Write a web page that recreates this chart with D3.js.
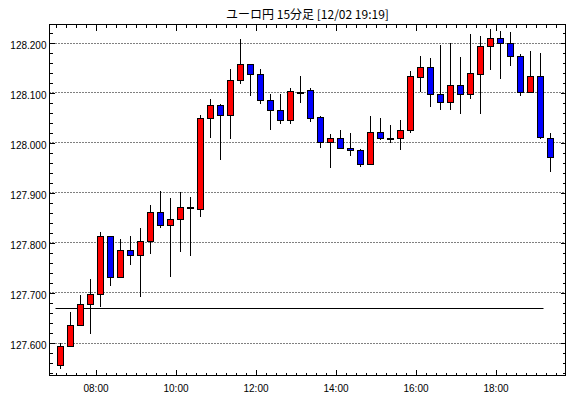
<!DOCTYPE html>
<html><head><meta charset="utf-8">
<script src="https://cdn.jsdelivr.net/npm/d3@7"></script>
<style>
html,body{margin:0;padding:0;background:#fff;}
svg{display:block;}
</style></head>
<body>
<svg id="chart" width="570" height="398"></svg>
<script>
const title = "ユーロ円 15分足 [12/02 19:19]";
const times = ["07:00","07:15","07:30","07:45","08:00","08:15","08:30","08:45","09:00","09:15",
  "09:30","09:45","10:00","10:15","10:30","10:45","11:00","11:15","11:30","11:45",
  "12:00","12:15","12:30","12:45","13:00","13:15","13:30","13:45","14:00","14:15",
  "14:30","14:45","15:00","15:15","15:30","15:45","16:00","16:15","16:30","16:45",
  "17:00","17:15","17:30","17:45","18:00","18:15","18:30","18:45","19:00","19:15"];
const open = [127.554,127.594,127.636,127.678,127.698,127.812,127.730,127.785,127.776,127.803,
  127.862,127.834,127.846,127.870,127.868,128.048,128.074,128.054,128.124,128.156,
  128.136,128.084,128.064,128.046,128.101,128.104,128.050,128.000,128.008,127.988,
  127.984,127.956,128.020,128.010,128.008,128.024,128.130,128.152,128.096,128.080,
  128.114,128.096,128.136,128.193,128.208,128.198,128.172,128.100,128.132,128.010];
const high = [127.600,127.661,127.695,127.727,127.821,127.813,127.807,127.813,127.829,127.875,
  127.903,127.889,127.900,127.891,128.055,128.087,128.076,128.147,128.207,128.158,
  128.147,128.097,128.097,128.108,128.133,128.108,128.053,128.017,128.025,128.019,
  127.986,128.053,128.048,128.035,128.045,128.143,128.173,128.169,128.195,128.199,
  128.171,128.218,128.213,128.226,128.223,128.221,128.177,128.183,128.179,128.018];
const low = [127.547,127.590,127.633,127.618,127.671,127.713,127.729,127.755,127.691,127.777,
  127.829,127.730,127.781,127.773,127.851,128.008,127.965,128.006,128.116,128.093,
  128.076,128.025,128.037,128.037,128.079,128.041,127.989,127.949,127.986,127.973,
  127.951,127.956,128.005,127.998,127.985,128.018,128.100,128.071,128.064,128.064,
  128.057,128.086,128.056,128.145,128.127,128.153,128.093,128.100,128.007,127.941];
const close = [127.594,127.636,127.678,127.698,127.812,127.730,127.785,127.776,127.803,127.862,
  127.834,127.846,127.870,127.870,128.048,128.074,128.054,128.124,128.156,128.136,
  128.084,128.064,128.046,128.102,128.101,128.049,128.000,128.008,127.989,127.984,
  127.956,128.020,128.010,128.009,128.025,128.132,128.152,128.096,128.080,128.114,
  128.096,128.139,128.193,128.208,128.198,128.172,128.100,128.132,128.011,127.972];
const yTickLabels = ["127.600","127.700","127.800","127.900","128.000","128.100","128.200"];
const xTickLabels = ["08:00","10:00","12:00","14:00","16:00","18:00"];
const refLevel = 127.668;
const refStart = "07:00";
const refEnd = "19:12";

const day = "2020-12-02";
const parse = d3.timeParse("%Y-%m-%d %H:%M");
const T = s => parse(day + " " + s);

const L = 49.5, R = 565.5, TOP = 24.5, BOT = 375.5;
const svg = d3.select("#chart");

const x = d3.scaleTime().domain([T("06:51"), T("19:45")]).range([L, R]);
const y = d3.scaleLinear().domain([127.536, 128.236]).range([374.5, 24.5]);

const font = "'Liberation Sans', Arial, sans-serif";

// title
svg.append("text").attr("x", (L + R) / 2).attr("y", 18.5)
  .attr("text-anchor", "middle").attr("font-family", "'Noto Sans CJK JP', sans-serif")
  .attr("font-size", 12).attr("fill", "#000").text(title);

// grid
svg.append("g").selectAll("line").data(yTickLabels).join("line")
  .attr("x1", L).attr("x2", R)
  .attr("y1", d => Math.round(y(+d)) + 0.5).attr("y2", d => Math.round(y(+d)) + 0.5)
  .attr("stroke", "#000").attr("stroke-width", 1).attr("stroke-dasharray", "1,2");

// ticks
const minorTimes = d3.timeMinute.every(15).range(T("07:00"), T("19:45"));
const majorTimes = xTickLabels.map(T);
const minorVals = d3.range(127.54, 128.2361, 0.02);

function styleAxis(g) {
  g.select(".domain").remove();
  g.selectAll(".tick line").attr("stroke", "#000").attr("shape-rendering", "crispEdges");
  g.selectAll(".tick text").attr("fill", "#000").attr("font-family", font).attr("font-size", 10);
}

svg.append("g").attr("transform", `translate(0,${BOT})`)
  .call(d3.axisBottom(x).tickValues(minorTimes).tickSize(-3).tickFormat("")).call(styleAxis);
svg.append("g").attr("transform", `translate(0,${BOT})`)
  .call(d3.axisBottom(x).tickValues(majorTimes).tickSize(-6).tickPadding(9)
    .tickFormat(d3.timeFormat("%H:%M"))).call(styleAxis);
svg.append("g").attr("transform", `translate(0,${TOP})`)
  .call(d3.axisTop(x).tickValues(minorTimes).tickSize(-3).tickFormat("")).call(styleAxis);
svg.append("g").attr("transform", `translate(0,${TOP})`)
  .call(d3.axisTop(x).tickValues(majorTimes).tickSize(-6).tickFormat("")).call(styleAxis);

svg.append("g").attr("transform", `translate(${L},0)`)
  .call(d3.axisLeft(y).tickValues(minorVals).tickSize(-3).tickFormat("")).call(styleAxis);
svg.append("g").attr("transform", `translate(${R},0)`)
  .call(d3.axisRight(y).tickValues(minorVals).tickSize(-3).tickFormat("")).call(styleAxis);
svg.append("g").attr("transform", `translate(${L},0)`)
  .call(d3.axisLeft(y).tickValues(yTickLabels.map(Number)).tickSize(-5).tickPadding(3)
    .tickFormat(d3.format(".3f"))).call(styleAxis)
  .call(g => g.selectAll(".tick text").attr("dy", "6"));
svg.append("g").attr("transform", `translate(${R},0)`)
  .call(d3.axisRight(y).tickValues(yTickLabels.map(Number)).tickSize(-5).tickFormat("")).call(styleAxis);

// reference line
svg.append("line")
  .attr("x1", x(T(refStart))).attr("x2", x(T(refEnd)))
  .attr("y1", Math.round(y(refLevel)) + 0.5).attr("y2", Math.round(y(refLevel)) + 0.5)
  .attr("stroke", "#000").attr("stroke-width", 1);

// candles
const data = times.map((t, i) => ({t: T(t), o: open[i], h: high[i], l: low[i], c: close[i]}));
const cx = d => Math.round(x(d3.timeSecond.offset(d.t, 450)) - 0.5) + 0.5; // center of 15-min bar
const g = svg.append("g").attr("shape-rendering", "crispEdges");
g.selectAll("line.wick").data(data).join("line").attr("class", "wick")
  .attr("x1", d => cx(d)).attr("x2", d => cx(d))
  .attr("y1", d => Math.round(y(d.h))).attr("y2", d => Math.round(y(d.l)))
  .attr("stroke", "#000").attr("stroke-width", 1);
g.selectAll("rect").data(data).join("rect")
  .attr("x", d => cx(d) - 3)
  .attr("y", d => Math.round(y(Math.max(d.o, d.c))) + 0.5)
  .attr("width", 6)
  .attr("height", d => Math.max(1, Math.round(y(Math.min(d.o, d.c))) - Math.round(y(Math.max(d.o, d.c)))))
  .attr("fill", d => d.c > d.o ? "#ff0000" : (d.c < d.o ? "#0000ff" : "#000"))
  .attr("stroke", "#000").attr("stroke-width", 1);

// frame
svg.append("rect").attr("x", L).attr("y", TOP).attr("width", R - L).attr("height", BOT - TOP)
  .attr("fill", "none").attr("stroke", "#000").attr("stroke-width", 1).attr("shape-rendering", "crispEdges");
</script>
</body></html>
